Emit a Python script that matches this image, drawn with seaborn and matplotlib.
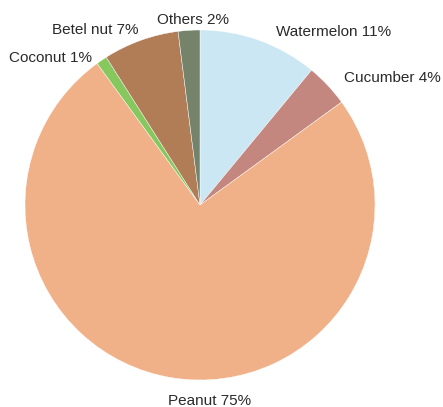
import matplotlib
matplotlib.use("Agg")
import matplotlib.pyplot as plt
import seaborn as sns

# data
labels = ["Watermelon", "Cucumber", "Peanut", "Coconut", "Betel nut", "Others"]
shares = [11, 4, 75, 1, 7, 2]
colors = ["#cbe7f3", "#c3877f", "#f0b188", "#86c85e", "#b07d56", "#75836b"]

# label anchors (pie radius = 1) and alignment
label_pos = [(0.434, 0.989), (0.823, 0.726), (0.057, -1.12),
             (-0.617, 0.84), (-0.354, 1.0), (-0.04, 1.057)]
label_ha = ["left", "left", "center", "right", "right", "center"]

sns.set_theme(style="white")
plt.rcParams['font.family'] = ['Liberation Sans', 'DejaVu Sans']

fig = plt.figure(figsize=(4.43, 4.07), dpi=100)
ax = fig.add_axes([25 / 443, 27 / 407, 350 / 443, 350 / 407])

ax.pie(shares, colors=sns.color_palette(colors), startangle=90,
       counterclock=False, radius=1,
       wedgeprops=dict(edgecolor="white", linewidth=0.3))

for l, s, (x, y), ha in zip(labels, shares, label_pos, label_ha):
    ax.text(x, y, f"{l} {s}%", ha=ha, va="center", fontsize=11, color="#2a2a2a")

ax.set_xlim(-1, 1)
ax.set_ylim(-1, 1)
ax.set_aspect("equal")
ax.axis("off")

fig.savefig("out.png", dpi=100)
